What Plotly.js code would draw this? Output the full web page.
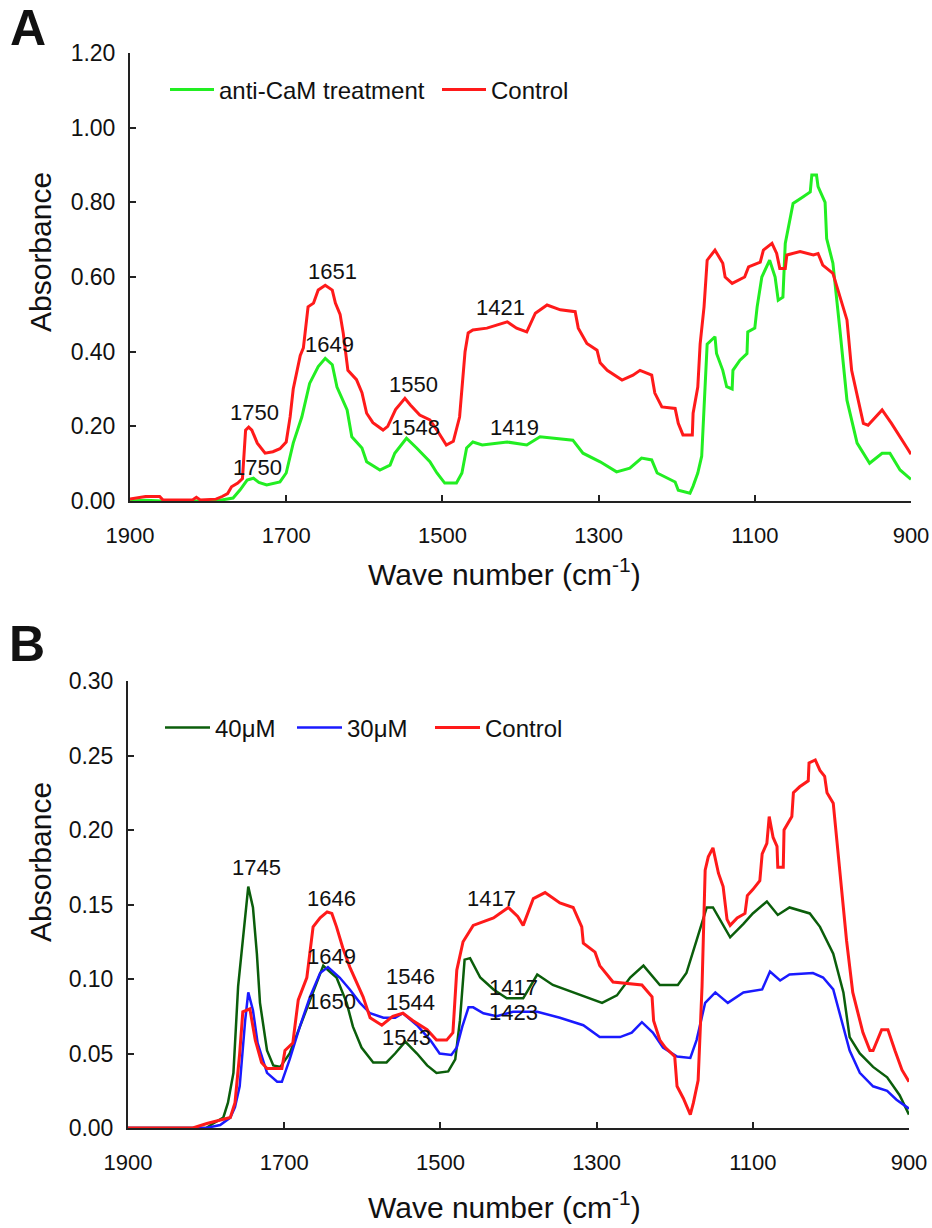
<!DOCTYPE html>
<html>
<head>
<meta charset="utf-8">
<script src="https://cdn.plot.ly/plotly-3.0.1.min.js"></script>
<style>html,body{margin:0;padding:0;background:#fff;}#chart{width:932px;height:1228px;}</style>
</head>
<body>
<div id="chart"></div>
<script>
// ---------- Panel A data ----------
const wnA_ctrl = [1900,1885,1880,1862,1858,1820,1815,1810,1790,1782,1775,1770,1762,1756,1752,1748,1744,1737,1727,1717,1708,1700,1695,1691,1682,1678,1672,1665,1659,1650,1641,1637,1631,1627,1621,1610,1603,1597,1589,1576,1570,1560,1548,1541,1529,1516,1507,1495,1486,1478,1471,1467,1461,1443,1417,1405,1392,1381,1366,1349,1330,1326,1320,1315,1302,1298,1289,1270,1256,1247,1232,1228,1219,1202,1198,1192,1180,1179,1173,1170,1165,1161,1151,1141,1138,1129,1113,1108,1093,1089,1078,1072,1068,1061,1059,1042,1025,1019,1013,1000,982,976,961,955,937,925,905,900];
const absA_ctrl = [0.005,0.010,0.012,0.012,0.003,0.003,0.010,0.003,0.005,0.012,0.020,0.038,0.048,0.060,0.190,0.198,0.190,0.155,0.128,0.132,0.140,0.158,0.225,0.300,0.390,0.410,0.520,0.530,0.565,0.578,0.565,0.530,0.500,0.450,0.350,0.325,0.290,0.235,0.210,0.190,0.200,0.245,0.275,0.257,0.230,0.217,0.190,0.150,0.160,0.225,0.400,0.450,0.458,0.463,0.480,0.463,0.453,0.503,0.525,0.512,0.507,0.463,0.440,0.422,0.404,0.370,0.350,0.324,0.337,0.350,0.337,0.289,0.252,0.248,0.208,0.177,0.177,0.235,0.305,0.420,0.520,0.645,0.672,0.637,0.600,0.583,0.600,0.627,0.640,0.672,0.690,0.663,0.623,0.623,0.659,0.668,0.659,0.663,0.632,0.610,0.485,0.350,0.208,0.203,0.244,0.208,0.142,0.125];

const wnA_anti = [1900,1880,1860,1790,1768,1759,1750,1742,1735,1725,1708,1700,1691,1680,1670,1659,1650,1641,1635,1622,1616,1603,1597,1580,1567,1561,1546,1533,1516,1507,1497,1482,1475,1469,1461,1449,1417,1392,1375,1333,1320,1298,1277,1260,1245,1232,1225,1202,1198,1183,1179,1173,1168,1161,1151,1149,1141,1136,1129,1128,1119,1110,1109,1100,1097,1091,1081,1074,1070,1064,1061,1051,1038,1029,1027,1021,1019,1010,1008,1000,991,982,969,953,937,927,914,900];
const absA_anti = [0.000,0.002,0.000,0.000,0.008,0.030,0.056,0.061,0.050,0.043,0.051,0.075,0.155,0.225,0.315,0.360,0.382,0.365,0.305,0.244,0.172,0.142,0.105,0.083,0.096,0.128,0.168,0.142,0.105,0.075,0.048,0.048,0.075,0.142,0.158,0.150,0.158,0.150,0.172,0.163,0.128,0.105,0.078,0.088,0.115,0.110,0.075,0.051,0.029,0.021,0.040,0.075,0.120,0.420,0.440,0.395,0.350,0.306,0.300,0.350,0.377,0.395,0.453,0.463,0.520,0.600,0.645,0.600,0.538,0.546,0.690,0.797,0.815,0.828,0.873,0.873,0.842,0.800,0.703,0.637,0.458,0.270,0.155,0.101,0.128,0.128,0.083,0.058];

// ---------- Panel B data ----------
const wnB_ctrl = [1900,1817,1799,1782,1769,1763,1757,1753,1744,1737,1729,1722,1703,1699,1689,1682,1671,1663,1654,1645,1639,1633,1625,1616,1607,1599,1590,1575,1561,1548,1535,1517,1505,1492,1484,1479,1471,1458,1432,1413,1401,1394,1381,1366,1347,1330,1319,1317,1302,1296,1279,1242,1229,1227,1219,1212,1200,1197,1189,1180,1176,1170,1165,1161,1157,1151,1144,1138,1133,1129,1120,1110,1107,1100,1091,1088,1082,1079,1074,1069,1068,1061,1060,1050,1048,1040,1029,1028,1020,1014,1008,1005,997,988,980,972,959,950,946,935,927,918,909,900];
const absB_ctrl = [0.000,0.000,0.003,0.005,0.007,0.017,0.050,0.078,0.080,0.059,0.044,0.040,0.040,0.052,0.057,0.086,0.101,0.135,0.141,0.145,0.144,0.135,0.121,0.108,0.097,0.088,0.074,0.069,0.075,0.077,0.072,0.066,0.059,0.059,0.064,0.106,0.125,0.136,0.141,0.148,0.142,0.136,0.154,0.158,0.151,0.148,0.135,0.124,0.118,0.109,0.098,0.096,0.088,0.072,0.059,0.054,0.048,0.028,0.020,0.009,0.017,0.032,0.095,0.173,0.182,0.188,0.171,0.162,0.140,0.136,0.141,0.144,0.156,0.160,0.166,0.184,0.191,0.209,0.195,0.189,0.175,0.175,0.200,0.209,0.225,0.229,0.233,0.245,0.247,0.240,0.236,0.225,0.218,0.171,0.126,0.091,0.064,0.052,0.052,0.066,0.066,0.052,0.039,0.031];

const wnB_40 = [1900,1800,1791,1778,1772,1765,1759,1753,1746,1740,1735,1731,1722,1714,1705,1693,1680,1667,1650,1644,1633,1620,1612,1601,1586,1569,1558,1545,1530,1517,1505,1490,1481,1475,1469,1462,1449,1432,1415,1394,1376,1356,1330,1293,1274,1257,1240,1219,1196,1185,1172,1159,1151,1129,1112,1100,1082,1068,1053,1027,1014,997,984,976,963,946,928,912,900];
const absB_40 = [0.000,0.000,0.003,0.007,0.017,0.037,0.095,0.128,0.162,0.148,0.117,0.084,0.052,0.042,0.041,0.050,0.068,0.086,0.109,0.106,0.101,0.084,0.068,0.054,0.044,0.044,0.050,0.058,0.050,0.042,0.037,0.038,0.046,0.072,0.113,0.114,0.101,0.093,0.087,0.087,0.103,0.096,0.091,0.084,0.089,0.101,0.109,0.096,0.096,0.104,0.126,0.148,0.148,0.128,0.137,0.144,0.152,0.143,0.148,0.144,0.135,0.117,0.091,0.061,0.050,0.041,0.034,0.022,0.009];

const wnB_30 = [1900,1800,1782,1769,1763,1757,1750,1746,1740,1734,1722,1709,1703,1693,1680,1667,1654,1644,1629,1616,1603,1590,1573,1558,1548,1530,1513,1501,1486,1479,1472,1464,1458,1445,1428,1407,1376,1347,1317,1296,1270,1255,1242,1228,1215,1197,1180,1172,1161,1148,1132,1112,1088,1078,1065,1053,1023,1010,997,986,976,963,946,928,916,900];
const absB_30 = [0.000,0.000,0.002,0.007,0.014,0.028,0.072,0.091,0.079,0.057,0.037,0.031,0.031,0.046,0.068,0.088,0.104,0.108,0.101,0.093,0.084,0.077,0.074,0.074,0.077,0.069,0.059,0.050,0.049,0.054,0.068,0.081,0.081,0.077,0.075,0.078,0.078,0.074,0.069,0.061,0.061,0.064,0.071,0.064,0.054,0.048,0.047,0.059,0.084,0.091,0.084,0.091,0.093,0.105,0.099,0.103,0.104,0.101,0.093,0.072,0.052,0.037,0.028,0.025,0.019,0.013];

// ---------- tick labels & peak labels ----------
const xTicks = [1900,1700,1500,1300,1100,900];
const yTicksA = [0,0.2,0.4,0.6,0.8,1.0,1.2];
const yTicksB = [0,0.05,0.10,0.15,0.20,0.25,0.30];

const peakTextA = ["1651","1649","1750","1750","1550","1548","1421","1419"];
const peakXA    = [1641,1644,1741,1737,1537,1535,1425,1408];
const peakYA    = [0.616,0.418,0.238,0.091,0.311,0.196,0.517,0.198];

const peakTextB = ["1745","1646","1649","1650","1546","1544","1543","1417","1417","1423"];
const peakXB    = [1736,1639,1639,1639,1538,1538,1544,1435,1406,1406];
const peakYB    = [0.175,0.154,0.115,0.085,0.1015,0.0845,0.061,0.154,0.094,0.0775];

const FONT = "Liberation Sans, Arial, Helvetica, sans-serif";
const INK = "#111111";

const traces = [
  {x: wnA_anti, y: absA_anti, name: "anti-CaM treatment", type: "scatter", mode: "lines",
   line: {color: "#22ee22", width: 3}, xaxis: "x", yaxis: "y", legend: "legend", legendwidth: 213},
  {x: wnA_ctrl, y: absA_ctrl, name: "Control", type: "scatter", mode: "lines",
   line: {color: "#ff1a1a", width: 3}, xaxis: "x", yaxis: "y", legend: "legend"},
  {x: wnB_40, y: absB_40, name: "40μM", type: "scatter", mode: "lines",
   line: {color: "#0b5e0b", width: 2.5}, xaxis: "x2", yaxis: "y2", legend: "legend2", legendwidth: 72},
  {x: wnB_30, y: absB_30, name: "30μM", type: "scatter", mode: "lines",
   line: {color: "#1a1aff", width: 2.5}, xaxis: "x2", yaxis: "y2", legend: "legend2", legendwidth: 78},
  {x: wnB_ctrl, y: absB_ctrl, name: "Control", type: "scatter", mode: "lines",
   line: {color: "#ff1a1a", width: 3}, xaxis: "x2", yaxis: "y2", legend: "legend2"}
];

function xAxis(domain, anchor) {
  return {domain: domain, anchor: anchor, range: [1900, 900], tickvals: xTicks,
    ticktext: xTicks.map(String), ticks: "inside", ticklen: 6, tickwidth: 2, tickcolor: "#222",
    showline: true, linecolor: "#222", linewidth: 2, showgrid: false, zeroline: false,
    tickfont: {family: FONT, size: 22, color: INK}, ticklabelstandoff: 14};
}
function yAxis(domain, anchor, range, ticks) {
  return {domain: domain, anchor: anchor, range: range, tickvals: ticks,
    ticktext: ticks.map(v => v.toFixed(2)), ticks: "inside", ticklen: 6, tickwidth: 2, tickcolor: "#222",
    showline: true, linecolor: "#222", linewidth: 2, showgrid: false, zeroline: false,
    tickfont: {family: FONT, size: 23, color: INK}, ticklabelstandoff: 8};
}

const annotations = [];
peakTextA.forEach((t, i) => annotations.push({x: peakXA[i], y: peakYA[i], xref: "x", yref: "y",
  text: t, showarrow: false, font: {family: FONT, size: 22, color: INK}}));
peakTextB.forEach((t, i) => annotations.push({x: peakXB[i], y: peakYB[i], xref: "x2", yref: "y2",
  text: t, showarrow: false, font: {family: FONT, size: 22, color: INK}}));

const paperText = [
  {text: "<b>A</b>", x: 28/932, y: 1 - 28/1228, size: 50, angle: 0},
  {text: "<b>B</b>", x: 27/932, y: 1 - 644/1228, size: 50, angle: 0},
  {text: "Absorbance", x: 41/932, y: 1 - 252/1228, size: 30, angle: -90},
  {text: "Absorbance", x: 40/932, y: 1 - 862/1228, size: 30, angle: -90},
  {text: "Wave number (cm<sup>-1</sup>)", x: 504/932, y: 1 - 572/1228, size: 30, angle: 0},
  {text: "Wave number (cm<sup>-1</sup>)", x: 504/932, y: 1 - 1205/1228, size: 30, angle: 0}
];
paperText.forEach(p => annotations.push({x: p.x, y: p.y, xref: "paper", yref: "paper",
  xanchor: "center", yanchor: "middle", text: p.text, textangle: p.angle, showarrow: false,
  font: {family: FONT, size: p.size, color: INK}}));

const layout = {
  width: 932, height: 1228, margin: {l: 0, r: 0, t: 0, b: 0},
  paper_bgcolor: "#ffffff", plot_bgcolor: "#ffffff",
  font: {family: FONT, color: INK},
  xaxis: xAxis([130/932, 911/932], "y"),
  yaxis: yAxis([1 - 501/1228, 1 - 53/1228], "x", [0, 1.2], yTicksA),
  xaxis2: xAxis([128/932, 909/932], "y2"),
  yaxis2: yAxis([1 - 1128/1228, 1 - 681/1228], "x2", [0, 0.30], yTicksB),
  showlegend: true,
  legend: {orientation: "h", x: 165/932, y: 1 - 90/1228, xanchor: "left", yanchor: "middle",
    font: {family: FONT, size: 24, color: INK}, bgcolor: "rgba(0,0,0,0)", itemwidth: 44,
    traceorder: "normal"},
  legend2: {orientation: "h", x: 160/932, y: 1 - 728/1228, xanchor: "left", yanchor: "middle",
    font: {family: FONT, size: 24, color: INK}, bgcolor: "rgba(0,0,0,0)", itemwidth: 45,
    traceorder: "normal"},
  annotations: annotations
};

Plotly.newPlot("chart", traces, layout, {displayModeBar: false, staticPlot: true});
</script>
</body>
</html>
